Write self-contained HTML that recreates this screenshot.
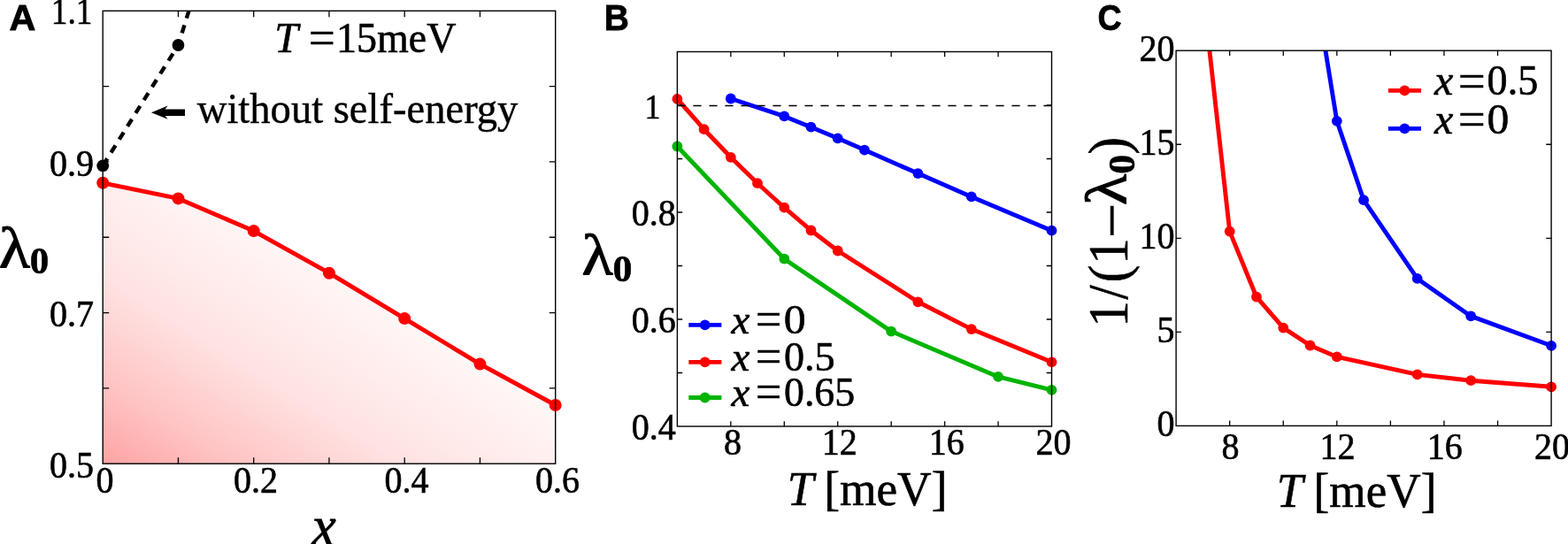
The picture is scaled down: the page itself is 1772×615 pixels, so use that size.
<!DOCTYPE html>
<html lang="en"><head><meta charset="utf-8"><title>Figure</title>
<style>
html,body{margin:0;padding:0;background:#fff;}
body{width:1772px;height:615px;overflow:hidden;}
svg{display:block;}
text{font-family:"Liberation Serif",serif;fill:#000;stroke:#000;}
text.sn{font-family:"Liberation Sans",sans-serif;font-weight:bold;}
text.it{font-style:italic;}
text.bd{font-weight:bold;}
</style>
</head><body>
<svg width="1772" height="615" viewBox="0 0 1772 615" role="img" aria-label="Figure panels A, B and C">
<rect width="1772" height="615" fill="#fff"/>
<defs>
<linearGradient id="gA" gradientUnits="userSpaceOnUse" x1="116.2" y1="524.2" x2="290" y2="245">
<stop offset="0" stop-color="#ffa3a3"/><stop offset="0.25" stop-color="#ffc4c4"/><stop offset="0.55" stop-color="#ffe2e2"/><stop offset="1" stop-color="#fff8f8"/>
</linearGradient>
<clipPath id="cA"><rect x="116.2" y="12.3" width="511.5" height="511.9"/></clipPath>
<clipPath id="cC"><rect x="1329.1" y="57.2" width="424" height="424.2"/></clipPath>
</defs>
<g id="panelA">
<path d="M116.2 206.8L201.45 224.4L286.7 261.1L371.95 308.7L457.2 360.1L542.45 411.6L627.7 458L627.7 524.2L116.2 524.2Z" fill="url(#gA)"/>
<path d="M116.2 206.8L201.45 224.4L286.7 261.1L371.95 308.7L457.2 360.1L542.45 411.6L627.7 458" fill="none" stroke="#ff0000" stroke-width="4.9" stroke-linejoin="round"/>
<g fill="#ff0000">
<circle cx="116.2" cy="206.8" r="7"/>
<circle cx="201.45" cy="224.4" r="7"/>
<circle cx="286.7" cy="261.1" r="7"/>
<circle cx="371.95" cy="308.7" r="7"/>
<circle cx="457.2" cy="360.1" r="7"/>
<circle cx="542.45" cy="411.6" r="7"/>
<circle cx="627.7" cy="458" r="7"/>
</g>
<rect x="116.2" y="12.3" width="511.5" height="511.9" fill="none" stroke="#000" stroke-width="1.4"/>
<path d="M201.45 524.2v-7M201.45 12.3v7M286.7 524.2v-7M286.7 12.3v7M371.95 524.2v-7M371.95 12.3v7M457.2 524.2v-7M457.2 12.3v7M542.45 524.2v-7M542.45 12.3v7M116.2 438.88h7M627.7 438.88h-7M116.2 353.57h7M627.7 353.57h-7M116.2 268.25h7M627.7 268.25h-7M116.2 182.93h7M627.7 182.93h-7M116.2 97.62h7M627.7 97.62h-7" stroke="#000" stroke-width="1.3" fill="none"/>
<path d="M116.2 187.3L201.45 51L286.7 -225" fill="none" stroke="#000" stroke-width="4.4" stroke-linejoin="round" stroke-dasharray="9.5 8" clip-path="url(#cA)"/>
<g fill="#000">
<circle cx="116.2" cy="187.3" r="6.9"/>
<circle cx="201.45" cy="51" r="6.9"/>
</g>
<text transform="translate(57.83 27.3) scale(0.8639 1)" font-size="43.16" stroke-width="0.6">1.1</text>
<text transform="translate(106 198.73) scale(0.97 1.045)" font-size="41.3" text-anchor="end" stroke-width="0.6">0.9</text>
<text transform="translate(106 369.37) scale(0.97 1.045)" font-size="41.3" text-anchor="end" stroke-width="0.6">0.7</text>
<text transform="translate(106 540) scale(0.97 1.045)" font-size="41.3" text-anchor="end" stroke-width="0.6">0.5</text>
<text transform="translate(118.5 557.2) scale(0.97 1.045)" font-size="41.3" text-anchor="middle" stroke-width="0.6">0</text>
<text transform="translate(289 557.2) scale(0.97 1.045)" font-size="41.3" text-anchor="middle" stroke-width="0.6">0.2</text>
<text transform="translate(459.5 557.2) scale(0.97 1.045)" font-size="41.3" text-anchor="middle" stroke-width="0.6">0.4</text>
<text transform="translate(630 557.2) scale(0.97 1.045)" font-size="41.3" text-anchor="middle" stroke-width="0.6">0.6</text>
<text transform="translate(10.47 33.7) scale(1.0299 1)" font-size="40.14" stroke-width="0.8" class="sn bd">A</text>
<text transform="translate(310.18 58.8) scale(1.0105 1)" font-size="47.5" stroke-width="0.6" class="it">T</text>
<text transform="translate(348.75 61.93) scale(1.1213 1.2)" font-size="47.5" stroke-width="0.3">=</text>
<text transform="translate(379.99 58.8) scale(0.9692 1)" font-size="47.5" stroke-width="0.6">15meV</text>
<text transform="translate(222.8 139) scale(0.9744 1)" font-size="47.8" stroke-width="0.4">without self-energy</text>
<path d="M171 127.2L189.6 119.6L186.6 123.5H209V130.9H186.6L189.6 134.8Z" fill="#000"/>
<text transform="translate(-1.32 301.5) scale(1.1046 1)" font-size="65.86" stroke-width="1.0">λ</text>
<text transform="translate(33.79 309.3) scale(1.011 1)" font-size="42.56" stroke-width="0.6" class="bd">0</text>
<text transform="translate(352.33 617.2) scale(0.9391 1)" font-size="66" stroke-width="0.8" class="it">x</text>
</g>
<g id="panelB">
<path d="M765.4 165.5L886.29 292.7L1007.17 374.6L1128.06 425.9L1188.5 440.9" fill="none" stroke="#00b400" stroke-width="4.9" stroke-linejoin="round"/>
<g fill="#00b400">
<circle cx="765.4" cy="165.5" r="5.9"/>
<circle cx="886.29" cy="292.7" r="5.9"/>
<circle cx="1007.17" cy="374.6" r="5.9"/>
<circle cx="1128.06" cy="425.9" r="5.9"/>
<circle cx="1188.5" cy="440.9" r="5.9"/>
</g>
<path d="M765.4 111.9L795.62 146.2L825.84 177.8L856.06 207.2L886.29 234.7L916.51 260.5L946.73 283.5L1037.39 341.3L1097.84 372.1L1188.5 409.3" fill="none" stroke="#ff0000" stroke-width="4.9" stroke-linejoin="round"/>
<g fill="#ff0000">
<circle cx="765.4" cy="111.9" r="5.9"/>
<circle cx="795.62" cy="146.2" r="5.9"/>
<circle cx="825.84" cy="177.8" r="5.9"/>
<circle cx="856.06" cy="207.2" r="5.9"/>
<circle cx="886.29" cy="234.7" r="5.9"/>
<circle cx="916.51" cy="260.5" r="5.9"/>
<circle cx="946.73" cy="283.5" r="5.9"/>
<circle cx="1037.39" cy="341.3" r="5.9"/>
<circle cx="1097.84" cy="372.1" r="5.9"/>
<circle cx="1188.5" cy="409.3" r="5.9"/>
</g>
<path d="M825.84 111.5L886.29 131.4L916.51 143.7L946.73 156.3L976.95 169.6L1037.39 196.1L1097.84 222.4L1188.5 260.7" fill="none" stroke="#0000ff" stroke-width="4.9" stroke-linejoin="round"/>
<g fill="#0000ff">
<circle cx="825.84" cy="111.5" r="5.9"/>
<circle cx="886.29" cy="131.4" r="5.9"/>
<circle cx="916.51" cy="143.7" r="5.9"/>
<circle cx="946.73" cy="156.3" r="5.9"/>
<circle cx="976.95" cy="169.6" r="5.9"/>
<circle cx="1037.39" cy="196.1" r="5.9"/>
<circle cx="1097.84" cy="222.4" r="5.9"/>
<circle cx="1188.5" cy="260.7" r="5.9"/>
</g>
<path d="M765.4 119.5H1188.5" stroke="#000" stroke-width="1.4" stroke-dasharray="9.2 8.8" fill="none"/>
<rect x="765.4" y="58.5" width="423.1" height="423.5" fill="none" stroke="#000" stroke-width="1.4"/>
<path d="M825.84 482v-5.8M825.84 58.5v5.8M886.29 482v-5.8M886.29 58.5v5.8M946.73 482v-5.8M946.73 58.5v5.8M1007.17 482v-5.8M1007.17 58.5v5.8M1067.61 482v-5.8M1067.61 58.5v5.8M1128.06 482v-5.8M1128.06 58.5v5.8M765.4 421.5h5.8M1188.5 421.5h-5.8M765.4 361h5.8M1188.5 361h-5.8M765.4 300.5h5.8M1188.5 300.5h-5.8M765.4 240h5.8M1188.5 240h-5.8M765.4 179.5h5.8M1188.5 179.5h-5.8M765.4 119h5.8M1188.5 119h-5.8" stroke="#000" stroke-width="1.3" fill="none"/>
<text transform="translate(728.54 133.6) scale(0.9 1)" font-size="40.06" stroke-width="0.6">1</text>
<text transform="translate(763.8 254.6) scale(0.97 1.045)" font-size="41.3" text-anchor="end" stroke-width="0.6">0.8</text>
<text transform="translate(763.8 375.6) scale(0.97 1.045)" font-size="41.3" text-anchor="end" stroke-width="0.6">0.6</text>
<text transform="translate(763.8 496.6) scale(0.97 1.045)" font-size="41.3" text-anchor="end" stroke-width="0.6">0.4</text>
<text transform="translate(827.94 514.4) scale(0.97 1.045)" font-size="41.3" text-anchor="middle" stroke-width="0.6">8</text>
<text transform="translate(948.83 514.4) scale(0.97 1.045)" font-size="41.3" text-anchor="middle" stroke-width="0.6">12</text>
<text transform="translate(1069.71 514.4) scale(0.97 1.045)" font-size="41.3" text-anchor="middle" stroke-width="0.6">16</text>
<text transform="translate(1190.6 514.4) scale(0.97 1.045)" font-size="41.3" text-anchor="middle" stroke-width="0.6">20</text>
<text transform="translate(682.86 33.7) scale(0.9721 1)" font-size="40.14" stroke-width="0.8" class="sn bd">B</text>
<text transform="translate(657.38 309.7) scale(1.1022 1)" font-size="66" stroke-width="1.0">λ</text>
<text transform="translate(692.46 318.2) scale(1.0184 1)" font-size="43.16" stroke-width="0.6" class="bd">0</text>
<text transform="translate(889.83 570.6) scale(0.9899 1)" font-size="54" stroke-width="0.6" class="it">T</text>
<text transform="translate(931.16 570.6) scale(0.9882 1)" font-size="54" stroke-width="0.6">[meV]</text>
<path d="M778.3 367.3H815.4" stroke="#0000ff" stroke-width="4.8"/>
<circle cx="796.7" cy="367.3" r="5.9" fill="#0000ff"/>
<text transform="translate(826.4 377.1) scale(1 1)" font-size="47" stroke-width="0.6" class="it">x</text>
<text transform="translate(853.68 380.2) scale(1.1198 1.2)" font-size="47" stroke-width="0.3">=</text>
<text transform="translate(885.86 377.1) scale(1.0589 1)" font-size="47" stroke-width="0.6">0</text>
<path d="M778.3 409.3H815.4" stroke="#ff0000" stroke-width="4.8"/>
<circle cx="796.7" cy="409.3" r="5.9" fill="#ff0000"/>
<text transform="translate(826.4 419) scale(1 1)" font-size="47" stroke-width="0.6" class="it">x</text>
<text transform="translate(853.68 422.1) scale(1.1198 1.2)" font-size="47" stroke-width="0.3">=</text>
<text transform="translate(885.98 419) scale(0.9827 1)" font-size="47" stroke-width="0.6">0.5</text>
<path d="M778.3 449.5H815.4" stroke="#00b400" stroke-width="4.8"/>
<circle cx="796.7" cy="449.5" r="5.9" fill="#00b400"/>
<text transform="translate(826.4 458.8) scale(1 1)" font-size="47" stroke-width="0.6" class="it">x</text>
<text transform="translate(853.68 461.9) scale(1.1198 1.2)" font-size="47" stroke-width="0.3">=</text>
<text transform="translate(886 458.8) scale(0.9752 1)" font-size="47" stroke-width="0.6">0.65</text>
</g>
<g id="panelC">
<path d="M1359.39 -10.2L1389.67 261.6L1419.96 335.7L1450.24 370.6L1480.53 390.5L1510.81 403.4L1601.67 423.4L1662.24 430.2L1753.1 437.3" fill="none" stroke="#ff0000" stroke-width="4.9" stroke-linejoin="round" clip-path="url(#cC)"/>
<g fill="#ff0000">
<circle cx="1389.67" cy="261.6" r="5.9"/>
<circle cx="1419.96" cy="335.7" r="5.9"/>
<circle cx="1450.24" cy="370.6" r="5.9"/>
<circle cx="1480.53" cy="390.5" r="5.9"/>
<circle cx="1510.81" cy="403.4" r="5.9"/>
<circle cx="1601.67" cy="423.4" r="5.9"/>
<circle cx="1662.24" cy="430.2" r="5.9"/>
<circle cx="1753.1" cy="437.3" r="5.9"/>
</g>
<path d="M1480.53 -50.4L1510.81 136.8L1541.1 226.2L1601.67 314.9L1662.24 357.4L1753.1 390.8" fill="none" stroke="#0000ff" stroke-width="4.9" stroke-linejoin="round" clip-path="url(#cC)"/>
<g fill="#0000ff">
<circle cx="1510.81" cy="136.8" r="5.9"/>
<circle cx="1541.1" cy="226.2" r="5.9"/>
<circle cx="1601.67" cy="314.9" r="5.9"/>
<circle cx="1662.24" cy="357.4" r="5.9"/>
<circle cx="1753.1" cy="390.8" r="5.9"/>
</g>
<rect x="1329.1" y="57.2" width="424" height="424.2" fill="none" stroke="#000" stroke-width="1.4"/>
<path d="M1389.67 481.4v-5.8M1389.67 57.2v5.8M1450.24 481.4v-5.8M1450.24 57.2v5.8M1510.81 481.4v-5.8M1510.81 57.2v5.8M1571.39 481.4v-5.8M1571.39 57.2v5.8M1631.96 481.4v-5.8M1631.96 57.2v5.8M1692.53 481.4v-5.8M1692.53 57.2v5.8M1329.1 375.35h5.8M1753.1 375.35h-5.8M1329.1 269.3h5.8M1753.1 269.3h-5.8M1329.1 163.25h5.8M1753.1 163.25h-5.8" stroke="#000" stroke-width="1.3" fill="none"/>
<text transform="translate(1327.6 69.2) scale(0.97 1.045)" font-size="41.3" text-anchor="end" stroke-width="0.6">20</text>
<text transform="translate(1327.6 175.25) scale(0.97 1.045)" font-size="41.3" text-anchor="end" stroke-width="0.6">15</text>
<text transform="translate(1327.6 281.3) scale(0.97 1.045)" font-size="41.3" text-anchor="end" stroke-width="0.6">10</text>
<text transform="translate(1327.6 387.35) scale(0.97 1.045)" font-size="41.3" text-anchor="end" stroke-width="0.6">5</text>
<text transform="translate(1327.6 493.4) scale(0.97 1.045)" font-size="41.3" text-anchor="end" stroke-width="0.6">0</text>
<text transform="translate(1390.47 518.6) scale(0.97 1.045)" font-size="41.3" text-anchor="middle" stroke-width="0.6">8</text>
<text transform="translate(1511.61 518.6) scale(0.97 1.045)" font-size="41.3" text-anchor="middle" stroke-width="0.6">12</text>
<text transform="translate(1632.76 518.6) scale(0.97 1.045)" font-size="41.3" text-anchor="middle" stroke-width="0.6">16</text>
<text transform="translate(1753.9 518.6) scale(0.97 1.045)" font-size="41.3" text-anchor="middle" stroke-width="0.6">20</text>
<text transform="translate(1240.6 33.9) scale(0.9423 1)" font-size="39.86" stroke-width="0.8" class="sn bd">C</text>
<text transform="translate(1442.83 573) scale(0.9899 1)" font-size="54" stroke-width="0.6" class="it">T</text>
<text transform="translate(1484.58 573) scale(0.9852 1)" font-size="54" stroke-width="0.6">[meV]</text>
<path d="M1568.9 102.3H1606" stroke="#ff0000" stroke-width="4.8"/>
<circle cx="1587.4" cy="102.3" r="5.9" fill="#ff0000"/>
<text transform="translate(1621.02 107.4) scale(1 1)" font-size="48" stroke-width="0.6" class="it">x</text>
<text transform="translate(1647.68 110.57) scale(1.1447 1.2)" font-size="48" stroke-width="0.3">=</text>
<text transform="translate(1680.59 107.4) scale(0.9605 1)" font-size="48" stroke-width="0.6">0.5</text>
<path d="M1568.9 145.4H1606" stroke="#0000ff" stroke-width="4.8"/>
<circle cx="1587.4" cy="145.4" r="5.9" fill="#0000ff"/>
<text transform="translate(1621.02 150.5) scale(1 1)" font-size="48" stroke-width="0.6" class="it">x</text>
<text transform="translate(1647.68 153.67) scale(1.1447 1.2)" font-size="48" stroke-width="0.3">=</text>
<text transform="translate(1680.46 150.5) scale(1.0368 1)" font-size="48" stroke-width="0.6">0</text>
<text transform="translate(1273.5 369.86) rotate(-90) scale(0.92 1)" font-size="64" stroke-width="0.6">1</text>
<text transform="translate(1273.5 338.5) rotate(-90) scale(0.9091 1)" font-size="64" stroke-width="0.6">/</text>
<text transform="translate(1273.5 319.35) rotate(-90) scale(0.9198 1)" font-size="64" stroke-width="0.6">(</text>
<text transform="translate(1273.5 298.66) rotate(-90) scale(0.92 1)" font-size="64" stroke-width="0.6">1</text>
<text transform="translate(1277.6 269.22) rotate(-90) scale(1.0988 1)" font-size="64" stroke-width="0.6">−</text>
<text transform="translate(1271.8 232.02) rotate(-90) scale(1.1022 1)" font-size="66" stroke-width="1.0">λ</text>
<text transform="translate(1282 196.84) rotate(-90) scale(1.0222 1)" font-size="43" stroke-width="0.6" class="bd">0</text>
<text transform="translate(1273.5 174.68) rotate(-90) scale(0.9255 1)" font-size="64" stroke-width="0.6">)</text>
</g>
</svg></body></html>
